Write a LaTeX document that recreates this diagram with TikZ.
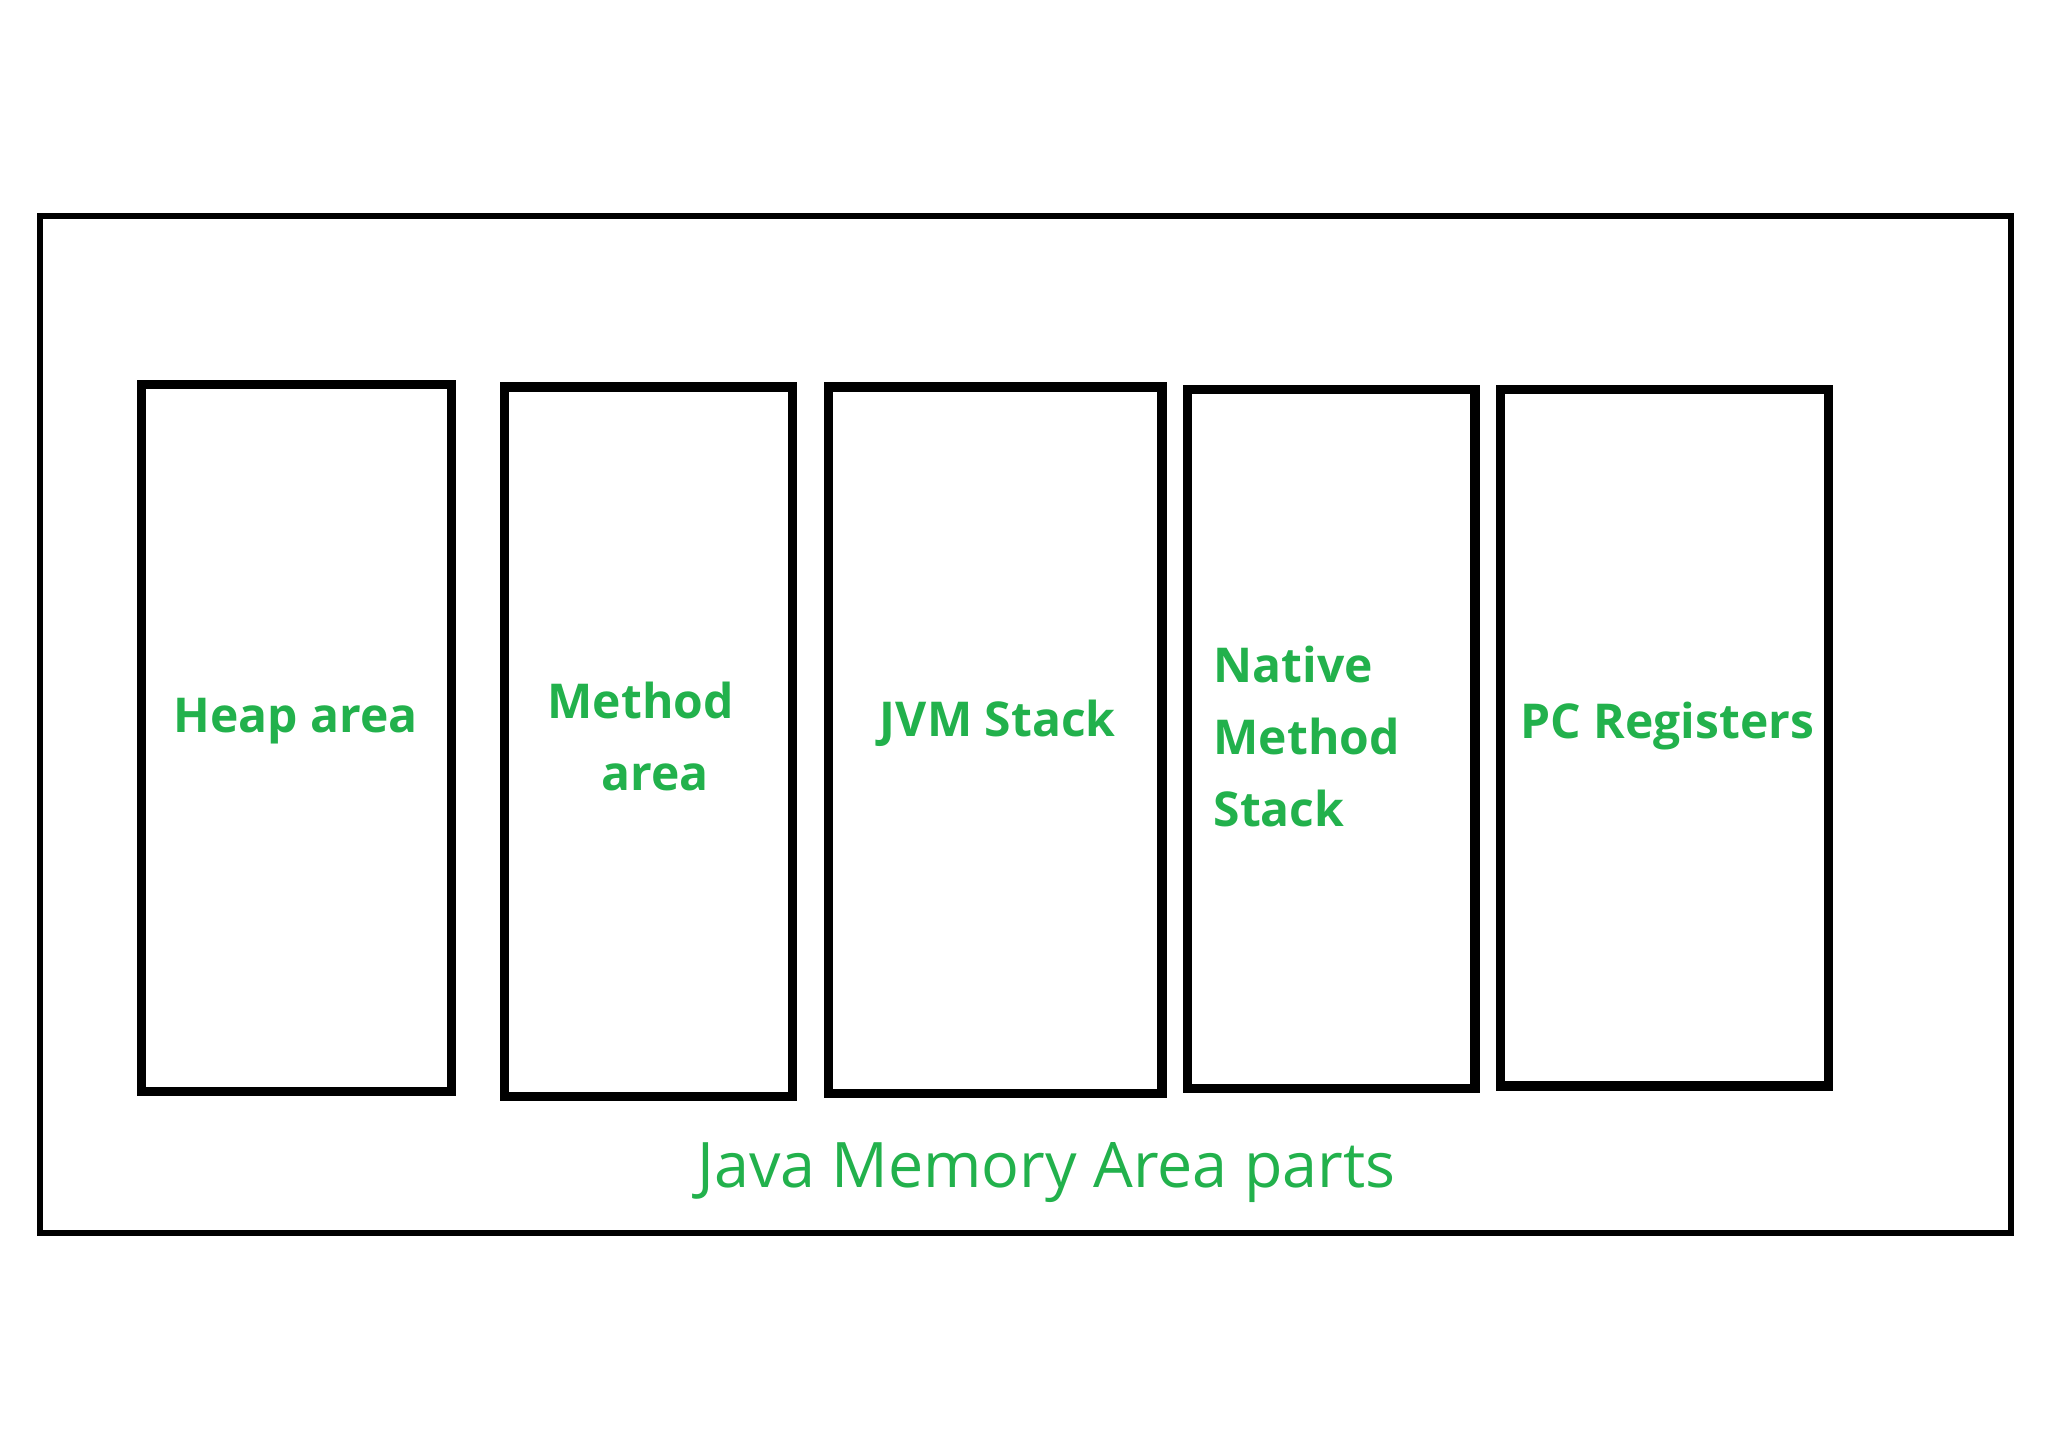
\documentclass[tikz,border=0pt]{standalone}
\usepackage{fontspec}
\setmainfont{Open Sans}
\definecolor{pg}{RGB}{34,177,76}
\begin{document}
\begin{tikzpicture}[x=0.01cm,y=-0.01cm,
  part/.style={draw=black,line width=2pt,inner sep=0pt},
  lab/.style={text=pg,font=\fontsize{10.4}{15.6}\selectfont\bfseries}]
\useasboundingbox (0,0) rectangle (1560,1102);
\node[draw=black,line width=1.3pt,minimum width=15.0cm,minimum height=7.74cm,inner sep=0pt] (outer) at (781,552) {};
\node[part,minimum width=2.36cm,minimum height=5.38cm] (heap) at (226,562) {};
\node[part,minimum width=2.19cm,minimum height=5.40cm] (method) at (494,565) {};
\node[part,minimum width=2.54cm,minimum height=5.38cm] (jvm) at (758,564) {};
\node[part,minimum width=2.19cm,minimum height=5.32cm] (native) at (1014,563) {};
\node[part,minimum width=2.50cm,minimum height=5.30cm] (pc) at (1268,562) {};
\node[lab] (heapl) at (225,549) {Heap area};
\node[lab,align=center] (methodl) at (488,561) {Method\\\hspace*{0.6em}area};
\node[lab] (jvml) at (760,551) {JVM Stack};
\node[lab,align=left,anchor=west] (nativel) at (912,561) {Native\\Method\\Stack};
\node[lab] (pcl) at (1270,553) {PC Registers};
\node[text=pg,font=\fontsize{13.6}{20}\selectfont] (title) at (797,893) {Java Memory Area parts};
\end{tikzpicture}
\end{document}
